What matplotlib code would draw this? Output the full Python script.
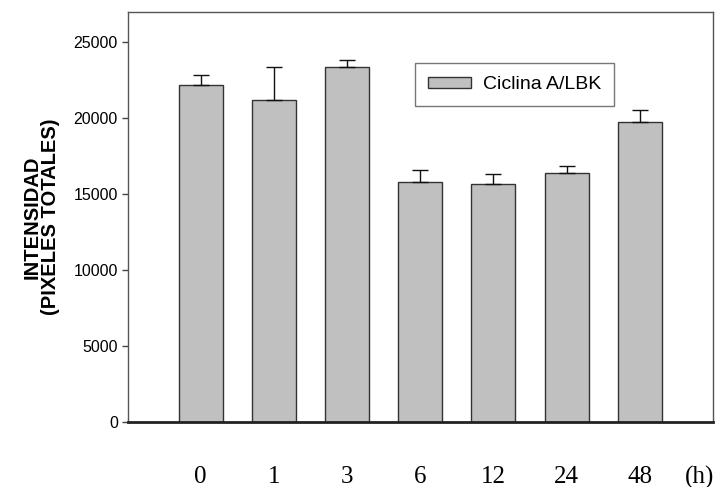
import matplotlib
matplotlib.use("Agg")
import matplotlib.pyplot as plt
from matplotlib.transforms import ScaledTranslation

categories = ["0", "1", "3", "6", "12", "24", "48"]
values = [22190, 21180, 23350, 15820, 15650, 16410, 19730]
errors = [640, 2170, 465, 750, 700, 445, 790]
series_name = "Ciclina A/LBK"
y_ticks = [0, 5000, 10000, 15000, 20000, 25000]
unit_label = "(h)"

fig = plt.figure(figsize=(7.2, 4.87), dpi=100)
ax = fig.add_axes([127.5 / 720, 1 - 422 / 487, (713 - 127.5) / 720, (422 - 12) / 487])

pos = list(range(len(categories)))
ax.bar(pos, values, width=0.6, color="#c0c0c0", edgecolor="#333333",
       linewidth=1.0, label=series_name, zorder=2)
ax.errorbar(pos, values, yerr=[[0] * len(errors), errors], fmt="none",
            ecolor="#111111", elinewidth=1.0, capsize=6, capthick=1.0, zorder=3)

ax.set_xlim(-1, len(categories))
ax.set_ylim(0, 27000)
ax.set_yticks(y_ticks)
ax.set_yticklabels([str(t) for t in y_ticks], fontfamily="Liberation Sans", fontsize=11.5)
ax.tick_params(axis="y", direction="out", length=4, width=1, color="#444444", pad=3)

pad_pt = 44
ax.set_xticks(pos)
ax.set_xticklabels(categories, fontfamily="Liberation Serif", fontsize=18)
ax.tick_params(axis="x", length=0, pad=pad_pt)
for lab in ax.get_xticklabels():
    lab.set_va("baseline")

ax.text(6.82, 0, unit_label, fontfamily="Liberation Serif", fontsize=18,
        ha="center", va="baseline",
        transform=ax.get_xaxis_transform() + ScaledTranslation(0, -pad_pt / 72, fig.dpi_scale_trans))

for s in ["left", "top", "right"]:
    ax.spines[s].set_color("#555555")
    ax.spines[s].set_linewidth(1.0)
ax.spines["bottom"].set_color("#222222")
ax.spines["bottom"].set_linewidth(2.0)

ax.set_ylabel("INTENSIDAD\n(PIXELES TOTALES)", fontfamily="Liberation Sans",
              fontweight="bold", fontsize=14.5, labelpad=10, linespacing=0.92)

leg = ax.legend(loc="upper left", bbox_to_anchor=((415 - 127.5) / 585.5, (422 - 63) / 410),
                borderaxespad=0, fancybox=False, frameon=True,
                prop={"family": "Liberation Sans", "size": 14},
                handlelength=2.2, handleheight=0.5, handletextpad=0.6,
                borderpad=0.68)
leg.get_frame().set_edgecolor("#555555")
leg.get_frame().set_linewidth(1.0)

fig.savefig("out.png", dpi=100)
